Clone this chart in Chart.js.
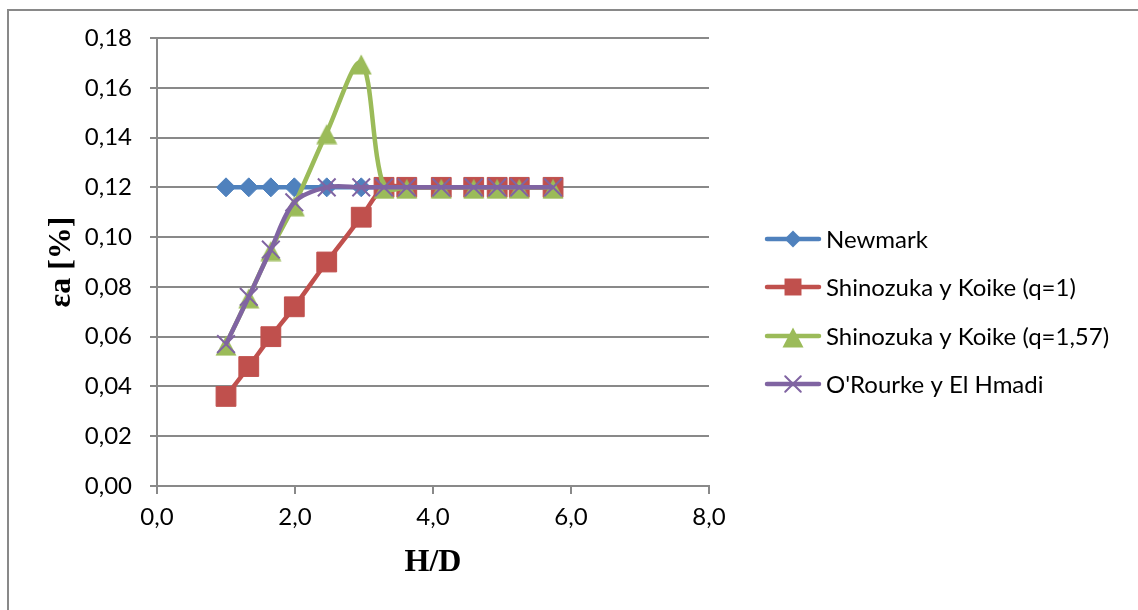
<!DOCTYPE html>
<html><head><meta charset="utf-8">
<script src="https://cdn.jsdelivr.net/npm/chart.js"></script>
<style>html,body{margin:0;padding:0;background:#fff;overflow:hidden}</style>
</head><body>
<canvas id="c" width="1138" height="610"></canvas>
<script>
// ---- data ----
const hd = [1.0, 1.33, 1.65, 1.99, 2.46, 2.96, 3.29, 3.62, 4.12, 4.59, 4.93, 5.25, 5.74];
const newmark  = [0.12, 0.12, 0.12, 0.12, 0.12, 0.12, 0.12, 0.12, 0.12, 0.12, 0.12, 0.12, 0.12];
const shinQ1   = [0.036, 0.048, 0.060, 0.072, 0.090, 0.108, 0.12, 0.12, 0.12, 0.12, 0.12, 0.12, 0.12];
const shinQ157 = [0.057, 0.076, 0.095, 0.113, 0.142, 0.170, 0.12, 0.12, 0.12, 0.12, 0.12, 0.12, 0.12];
const orourke  = [0.057, 0.076, 0.095, 0.114, 0.12, 0.12, 0.12, 0.12, 0.12, 0.12, 0.12, 0.12, 0.12];
const seriesNames = ['Newmark', 'Shinozuka y Koike (q=1)', 'Shinozuka y Koike (q=1,57)', "O'Rourke y El Hmadi"];
const xTickValues = [0, 2, 4, 6, 8];
const xTickLabels = ['0,0', '2,0', '4,0', '6,0', '8,0'];
const yTickValues = [0, 0.02, 0.04, 0.06, 0.08, 0.10, 0.12, 0.14, 0.16, 0.18];
const yTickLabels = ['0,00', '0,02', '0,04', '0,06', '0,08', '0,10', '0,12', '0,14', '0,16', '0,18'];
const xTitle = 'H/D';
const yTitle = 'εa [%]';

// ---- styles ----
const colors = ['#4F81BD', '#C0504D', '#9BBB59', '#8064A2'];
const GRID = '#898989';
const FONT = 'Lato';

// triangle marker image, box-centred like the spreadsheet's markers
function triangleImage(color) {
  const c = document.createElement('canvas');
  c.width = 22; c.height = 24;
  const g = c.getContext('2d');
  g.fillStyle = color;
  g.beginPath();
  g.moveTo(11, 3.5); g.lineTo(21.5, 23.5); g.lineTo(0.5, 23.5); g.closePath();
  g.fill();
  return c;
}
const triImg = triangleImage(colors[2]);
const shapes = ['rectRot', 'rect', triImg, 'crossRot'];
const radii = [9.5, 14, 12, 12.5];
const legendRadii = [8.5, 12, 11, 11];

function pts(arr) { return hd.map((x, i) => ({x: x, y: arr[i]})); }
const allSeries = [newmark, shinQ1, shinQ157, orourke];

const datasets = allSeries.map((arr, i) => ({
  label: seriesNames[i],
  data: pts(arr),
  borderColor: colors[i],
  backgroundColor: colors[i],
  borderWidth: 4.5,
  tension: 0.33,
  pointStyle: shapes[i],
  pointRadius: radii[i],
  pointHoverRadius: radii[i],
  pointBackgroundColor: colors[i],
  pointBorderColor: colors[i],
  pointBorderWidth: i === 3 ? 2 : 1,
  order: 4 - i,
  clip: false
}));

function labelFor(values, labels, v) {
  for (let i = 0; i < values.length; i++) if (Math.abs(values[i] - v) < 1e-9) return labels[i];
  return '';
}

const framePlugin = {
  id: 'frame',
  afterDraw(chart) {
    const ctx = chart.ctx;
    ctx.save();
    ctx.strokeStyle = GRID;
    ctx.lineWidth = 2;
    ctx.beginPath();
    ctx.moveTo(8, 610);
    ctx.lineTo(8, 10);
    ctx.lineTo(1138, 10);
    ctx.stroke();
    ctx.restore();
  }
};

function drawMarker(ctx, shape, x, y, r, color) {
  ctx.save();
  ctx.fillStyle = color;
  ctx.strokeStyle = color;
  ctx.beginPath();
  if (shape === 'rectRot') {
    ctx.moveTo(x - r, y); ctx.lineTo(x, y - r); ctx.lineTo(x + r, y); ctx.lineTo(x, y + r); ctx.closePath();
    ctx.fill();
  } else if (shape === 'rect') {
    const s = r * Math.SQRT1_2;
    ctx.rect(x - s, y - s, 2 * s, 2 * s); ctx.fill();
  } else if (shape === 'crossRot') {
    const o = r * Math.SQRT1_2;
    ctx.lineWidth = 2;
    ctx.moveTo(x - o, y - o); ctx.lineTo(x + o, y + o);
    ctx.moveTo(x + o, y - o); ctx.lineTo(x - o, y + o);
    ctx.stroke();
  } else {
    ctx.drawImage(shape, Math.round(x - shape.width / 2), Math.round(y - shape.height / 2));
  }
  ctx.restore();
}

const legendPlugin = {
  id: 'sideLegend',
  afterDraw(chart) {
    const ctx = chart.ctx;
    const ys = [239, 287, 336, 384];
    ctx.save();
    chart.data.datasets.forEach((ds, i) => {
      const y = ys[i];
      ctx.strokeStyle = colors[i];
      ctx.lineWidth = 4.5;
      ctx.lineCap = 'round';
      ctx.beginPath();
      ctx.moveTo(767, y); ctx.lineTo(819, y);
      ctx.stroke();
      drawMarker(ctx, shapes[i], 793, y, legendRadii[i], colors[i]);
      ctx.fillStyle = '#000';
      ctx.font = '24px ' + FONT;
      ctx.textBaseline = 'middle';
      ctx.textAlign = 'left';
      ctx.fillText(ds.label, 826, y + 1);
    });
    ctx.restore();
  }
};

new Chart(document.getElementById('c'), {
  type: 'scatter',
  data: {datasets: datasets},
  plugins: [framePlugin, legendPlugin],
  options: {
    responsive: false,
    animation: false,
    showLine: true,
    layout: {padding: {left: 8, top: 38, right: 429, bottom: 0}},
    plugins: {legend: {display: false}, tooltip: {enabled: false}},
    events: [],
    scales: {
      x: {
        type: 'linear', min: 0, max: 8,
        afterBuildTicks(scale) { scale.ticks = xTickValues.map(v => ({value: v})); },
        afterFit(scale) { scale.height = 124; },
        ticks: {
          color: '#000', font: {family: FONT, size: 24}, padding: 9,
          callback: v => labelFor(xTickValues, xTickLabels, v)
        },
        grid: {display: true, drawOnChartArea: false, drawTicks: true, tickLength: 8, color: GRID, lineWidth: 2},
        border: {display: true, color: GRID, width: 2},
        title: {display: true, text: xTitle, color: '#000',
          font: {family: 'Liberation Serif', size: 32, weight: 'bold'}, padding: {top: 0, bottom: 28}}
      },
      y: {
        type: 'linear', min: 0, max: 0.18,
        afterBuildTicks(scale) { scale.ticks = yTickValues.map(v => ({value: v})); },
        afterFit(scale) { scale.width = 149; },
        ticks: {
          color: '#000', font: {family: FONT, size: 24}, padding: 18,
          callback: v => labelFor(yTickValues, yTickLabels, v)
        },
        grid: {display: true, drawOnChartArea: true, drawTicks: true, tickLength: 7, color: GRID, lineWidth: 2},
        border: {display: true, color: GRID, width: 2},
        title: {display: true, text: yTitle, color: '#000',
          font: {family: 'Liberation Serif', size: 32, weight: 'bold'}, padding: {top: 35, bottom: 0}}
      }
    }
  }
});
</script>
</body></html>
